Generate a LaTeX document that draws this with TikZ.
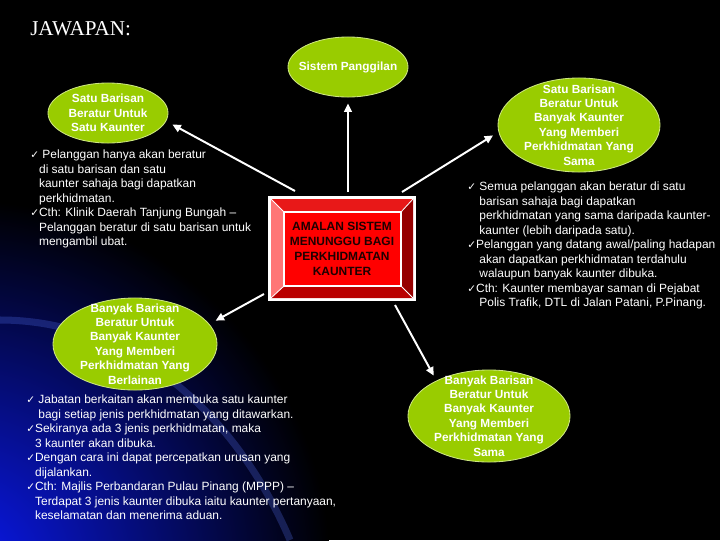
\documentclass[tikz,border=0pt]{standalone}
\usepackage{fontspec}
\setmainfont{Liberation Sans}
\newfontfamily\titlefont{Liberation Serif}
\newfontfamily\tickfont{DejaVu Sans}
\usetikzlibrary{arrows.meta,shapes.geometric}
\definecolor{ovalgreen}{RGB}{153,204,0}
\definecolor{ovalrim}{RGB}{205,230,130}
\definecolor{bgblue}{RGB}{10,25,240}
\definecolor{bgstreak}{RGB}{90,120,255}
\definecolor{bevtop}{RGB}{232,24,24}
\definecolor{bevleft}{RGB}{255,118,118}
\definecolor{bevright}{RGB}{150,0,0}
\definecolor{bevbottom}{RGB}{185,0,0}
\definecolor{boxface}{RGB}{255,0,0}
\definecolor{boxtext}{RGB}{30,0,0}
\newcommand\ck{{\tickfont\fontsize{7.5}{10.3}\selectfont ✓}}
\newcommand\ind{\phantom{\ck}}

\begin{document}
\begin{tikzpicture}[x=0.025cm,y=-0.025cm,
  oval/.style={ellipse,fill=ovalgreen,draw=ovalrim,line width=0.6pt,inner sep=0pt},
  ovaltext/.style={text=white,font=\fontsize{8.4}{10.3}\selectfont\bfseries,align=center,inner sep=0pt},
  bodytext/.style={text=white,font=\fontsize{8.5}{10.3}\selectfont,align=left,anchor=north west,inner sep=0pt},
  arrowline/.style={draw=white,line width=1.4pt,-{Triangle[length=6pt,width=5.5pt]}}]
\useasboundingbox (0,0) rectangle (720,540);
\fill[black] (0,0) rectangle (720,540);
% blue glow, bottom left
\begin{scope}
\clip (0,0) rectangle (720,540);
\shade[inner color=bgblue,outer color=black] (-40,570) circle (370);
\draw[bgstreak,line width=5pt,opacity=0.25] (0,320) .. controls (120,320) and (230,400) .. (290,540);
\end{scope}

% bevelled box
\draw[draw=white,line width=1.6pt] (269.5,197.5) rectangle (414.5,299.5);
\fill[fill=bevtop] (271,199) -- (413,199) -- (401,212) -- (284,212) -- cycle;
\fill[fill=bevright] (413,199) -- (413,298) -- (401,286) -- (401,212) -- cycle;
\fill[fill=bevbottom] (271,298) -- (413,298) -- (401,286) -- (284,286) -- cycle;
\fill[fill=bevleft] (271,199) -- (271,298) -- (284,286) -- (284,212) -- cycle;
\draw[draw=white,line width=0.6pt] (271,199) -- (284,212) (413,199) -- (401,212) (413,298) -- (401,286) (271,298) -- (284,286);
\draw[draw=white,line width=0.8pt,fill=boxface] (284,212) rectangle (401,286);
\node[text=boxtext,font=\fontsize{8.5}{10.6}\selectfont\bfseries,align=center] (amalan) at (342,249) {AMALAN SISTEM\\MENUNGGU BAGI\\PERKHIDMATAN\\KAUNTER};

\node[anchor=base west,inner sep=0pt,text=white,font=\titlefont\fontsize{15}{18}\selectfont] (title) at (30,35) {JAWAPAN:};

% ovals
\node[oval,minimum width=3cm,minimum height=1.5cm] (sistem) at (348,67) {};
\node[ovaltext] (sistemtext) at (sistem) {Sistem Panggilan};
\node[oval,minimum width=3cm,minimum height=1.5cm] (satusatu) at (108,113) {};
\node[ovaltext] (satusatutext) at (satusatu) {Satu Barisan\\Beratur Untuk\\Satu Kaunter};
\node[oval,minimum width=4.05cm,minimum height=2.35cm] (satubanyak) at (579,125) {};
\node[ovaltext] (satubanyaktext) at (satubanyak) {Satu Barisan\\Beratur Untuk\\Banyak Kaunter\\Yang Memberi\\Perkhidmatan Yang\\Sama};
\node[oval,minimum width=4.1cm,minimum height=2.3cm] (berlainan) at (135,344) {};
\node[ovaltext] (berlainantext) at (berlainan) {Banyak Barisan\\Beratur Untuk\\Banyak Kaunter\\Yang Memberi\\Perkhidmatan Yang\\Berlainan};
\node[oval,minimum width=4.05cm,minimum height=2.3cm] (banyaksama) at (489,416) {};
\node[ovaltext] (banyaksamatext) at (banyaksama) {Banyak Barisan\\Beratur Untuk\\Banyak Kaunter\\Yang Memberi\\Perkhidmatan Yang\\Sama};

% arrows
\coordinate (upstart) at (348,192);
\coordinate (leftstart) at (295,191);
\coordinate (rightstart) at (402,192);
\coordinate (lowleftstart) at (264,294);
\coordinate (lowrightstart) at (395,305);
\draw[arrowline,shorten >=4.3pt] (upstart) -- (sistem.south);
\draw[arrowline,shorten >=5pt] (leftstart) -- (satusatu.-8);
\draw[arrowline,shorten >=4.5pt] (rightstart) -- (satubanyak.185);
\draw[arrowline,shorten >=5pt] (lowleftstart) -- (berlainan.15);
\draw[arrowline,shorten >=4pt] (lowrightstart) -- (banyaksama.146);

% notes
\node[bodytext] (satunote) at (30,150) {\ck\ Pelanggan hanya akan beratur\\\ind di satu barisan dan satu\\\ind kaunter sahaja bagi dapatkan\\\ind perkhidmatan.\\\ck Cth: Klinik Daerah Tanjung Bungah --\\\ind Pelanggan beratur di satu barisan untuk\\\ind mengambil ubat.};
\node[bodytext] (samanote) at (467,182) {\ck\ Semua pelanggan akan beratur di satu\\\ind\ barisan sahaja bagi dapatkan\\\ind\ perkhidmatan yang sama daripada kaunter-\\\ind\ kaunter (lebih daripada satu).\\\ck Pelanggan yang datang awal/paling hadapan\\\ind\ akan dapatkan perkhidmatan terdahulu\\\ind\ walaupun banyak kaunter dibuka.\\\ck Cth: Kaunter membayar saman di Pejabat\\\ind\ Polis Trafik, DTL di Jalan Patani, P.Pinang.};
\node[bodytext] (lainnote) at (26,395) {\ck\ Jabatan berkaitan akan membuka satu kaunter\\\ind\ bagi setiap jenis perkhidmatan yang ditawarkan.\\\ck Sekiranya ada 3 jenis perkhidmatan, maka\\\ind 3 kaunter akan dibuka.\\\ck Dengan cara ini dapat percepatkan urusan yang\\\ind dijalankan.\\\ck Cth: Majlis Perbandaran Pulau Pinang (MPPP) --\\\ind Terdapat 3 jenis kaunter dibuka iaitu kaunter pertanyaan,\\\ind keselamatan dan menerima aduan.};
\end{tikzpicture}
\end{document}
